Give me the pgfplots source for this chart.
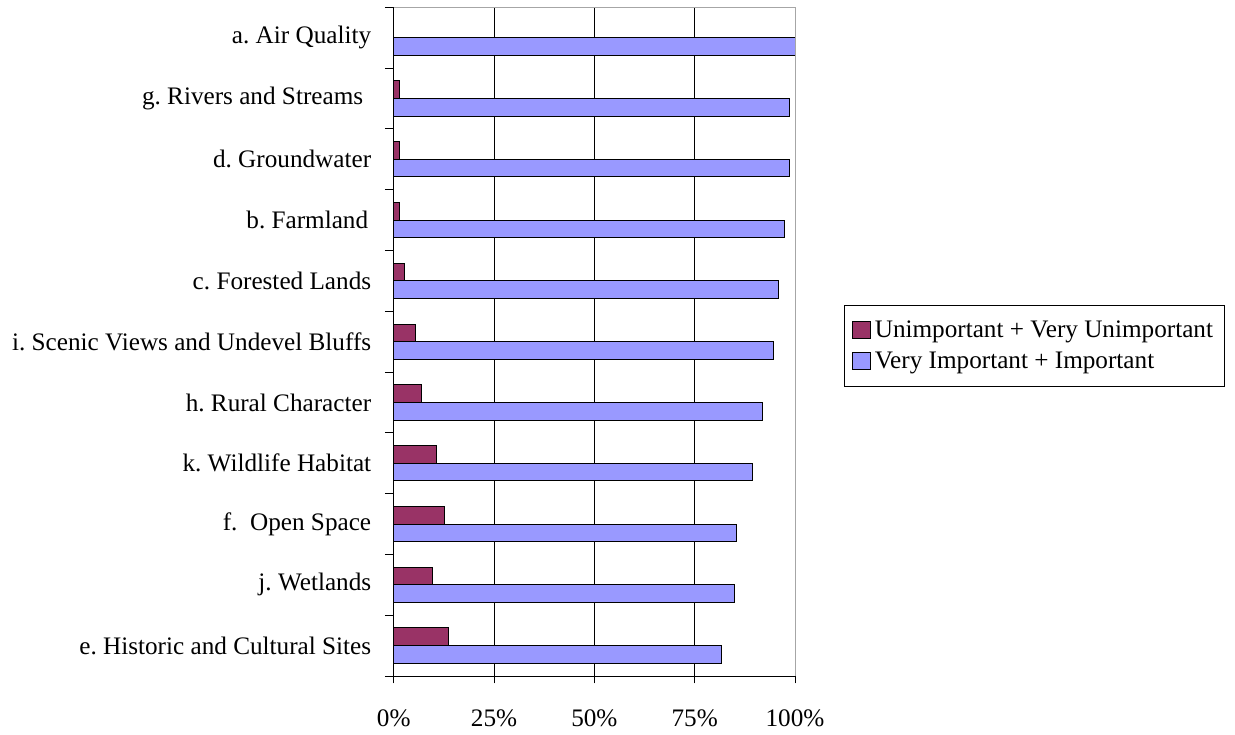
\documentclass[border=0pt]{standalone}
\usepackage{pgfplots}
\pgfplotsset{compat=1.18}
\usepackage{fontspec}
\setmainfont{Liberation Serif}
\frenchspacing
\newcommand\cf{\fontsize{12.6}{15}\selectfont\frenchspacing}
\definecolor{redbar}{HTML}{993366}
\definecolor{bluebar}{HTML}{9999FF}
\begin{document}
\begin{tikzpicture}
\path[use as bounding box] (-196.85pt,-29pt) rectangle (420.65pt,338pt);
\begin{axis}[
  at={(0,0)}, anchor=south west,
  scale only axis, width=200.65pt, height=334.35pt,
  xmin=0, xmax=100, ymin=-0.5, ymax=10.5,
  axis x line*=bottom, axis y line*=left,
  axis line style={black, line width=0.5pt},
  tick align=outside,
  xtick={0,25,50,75,100},
  xticklabels={0\%,25\%,50\%,75\%,100\%},
  xmajorgrids, grid style={black, line width=0.5pt},
  major tick length=3.7pt, minor tick length=4.35pt,
  major x tick style={black, line width=0.5pt},
  major y tick style={draw=none},
  minor y tick style={black, line width=0.5pt},
  ytick={0,...,10},
  minor ytick={-0.5,0.5,...,10.5},
  yticklabels={e. Historic and Cultural Sites, j. Wetlands, f.\ \ Open Space, k. Wildlife Habitat, h. Rural Character, i. Scenic Views and Undevel Bluffs, c. Forested Lands, b. Farmland\hspace*{1.5pt}, d. Groundwater, g. Rivers and Streams\hspace*{4pt}, a. Air Quality},
  yticklabel style={font=\cf, anchor=east, inner sep=0pt, xshift=-7.35pt},
  xticklabel style={font=\cf, anchor=north, inner sep=0pt, yshift=-13pt},
  xbar, bar width=0.29,
  legend style={at={(1,1)}, anchor=north west, xshift=24.65pt, yshift=-148.85pt,
    draw=black, line width=0.5pt, inner xsep=3.5pt, inner ysep=5.5pt, font=\cf,
    row sep=2pt, cells={anchor=west}},
  legend cell align=left,
  legend image code/.code={\draw[#1,line width=0.5pt] (0pt,-4pt) rectangle (9pt,4.5pt);},
  clip=false,
]
\addplot[xbar, bar shift=0.145, fill=redbar, draw=black, line width=0.5pt] coordinates {
  (13.7,0) (9.6,1) (12.7,2) (10.6,3) (6.9,4) (5.5,5) (2.7,6) (1.4,7) (1.4,8) (1.4,9) (0,10)};
\addlegendentry{Unimportant + Very Unimportant}
\addplot[xbar, bar shift=-0.145, fill=bluebar, draw=black, line width=0.5pt] coordinates {
  (81.7,0) (84.9,1) (85.5,2) (89.4,3) (91.8,4) (94.6,5) (95.9,6) (97.3,7) (98.7,8) (98.7,9) (100,10)};
\addlegendentry{Very Important + Important}
\draw[gray!70, line width=0.5pt] (rel axis cs:0,1) -- (rel axis cs:1,1) -- (rel axis cs:1,0);
\end{axis}
\end{tikzpicture}
\end{document}
